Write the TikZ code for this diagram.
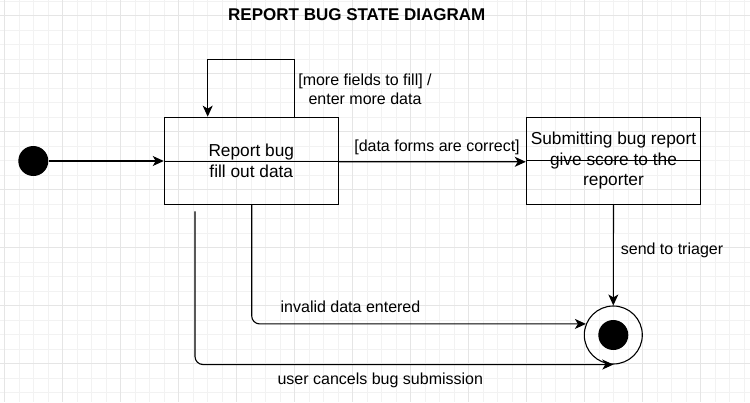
\documentclass[tikz,border=0pt]{standalone}
\usepackage{fontspec}
\setmainfont{Liberation Sans}
\usetikzlibrary{arrows.meta,calc}
\begin{document}
\begin{tikzpicture}[x=1pt,y=-1pt,
  minorgrid/.style={draw=black!5,line width=0.6pt},
  majorgrid/.style={draw=black!10,line width=0.6pt},
  state/.style={draw,line width=1.1pt,minimum width=174pt,minimum height=87pt,align=center,font=\fontsize{17.3}{20.7}\selectfont,inner sep=0pt},
  arr/.style={draw,line width=1.1pt,-{Stealth[length=11pt,width=10pt,inset=3pt]}},
  lbl/.style={align=center,font=\fontsize{16}{19}\selectfont,inner sep=0pt}]
\useasboundingbox (0,0) rectangle (750,402);
\fill[white] (0,0) rectangle (750,402);
\foreach \k in {0,...,51} \draw[minorgrid] ({4.3+14.5*\k},0) -- ({4.3+14.5*\k},402);
\foreach \k in {0,...,27} \draw[minorgrid] (0,{0.8+14.5*\k}) -- (750,{0.8+14.5*\k});
\foreach \k in {0,...,12} \draw[majorgrid] ({4.3+58*\k},0) -- ({4.3+58*\k},402);
\foreach \k in {0,...,6} \draw[majorgrid] (0,{15.3+58*\k}) -- (750,{15.3+58*\k});

\node[font=\bfseries\fontsize{17}{20}\selectfont,inner sep=0pt] (title) at (356.8,15) {REPORT BUG STATE DIAGRAM};

\node[circle,fill=black,minimum size=30pt,inner sep=0pt] (init) at (33.3,161) {};
\node[state] (rb) at (251.3,160.7) {Report bug\\fill out data};
\node[state,minimum width=174.3pt] (sb) at (613.5,160.8) {Submitting bug report\\give score to the\\reporter};
\node[circle,draw,line width=1.1pt,minimum size=58pt,inner sep=0pt] (fin) at (613.3,335) {};
\fill (fin.center) circle (15pt);

\draw[line width=1.1pt] ([yshift=-1pt]rb.west) -- ([yshift=-1pt]rb.east);
\draw[line width=1.1pt] (sb.west) -- (sb.east);

\draw[arr] (init.east) -- (init.east -| rb.west);
\draw[arr] ([xshift=43pt]rb.north) -- ++(0,-57.3) -| ([xshift=-43.6pt]rb.north);
\draw[arr] ([yshift=-1pt]rb.east) -- ([yshift=-1pt]sb.west);
\draw[arr] (sb.south) -- (fin.north);
\draw[arr,rounded corners=8pt] ([xshift=0.4pt]rb.south) |- (fin.158);
\draw[arr,rounded corners=8pt] ([xshift=-56.3pt,yshift=-6.7pt]rb.south) |- (fin.south);

\node[lbl] (l1) at (365,89.5) {[more fields to fill] /\\enter more data};
\node[lbl] (l2) at (437,147.5) {[data forms are correct]};
\node[lbl] (l3) at (672,250) {send to triager};
\node[lbl] (l4) at (350.5,306.5) {invalid data entered};
\node[lbl] (l5) at (380.3,380) {user cancels bug submission};
\end{tikzpicture}
\end{document}
